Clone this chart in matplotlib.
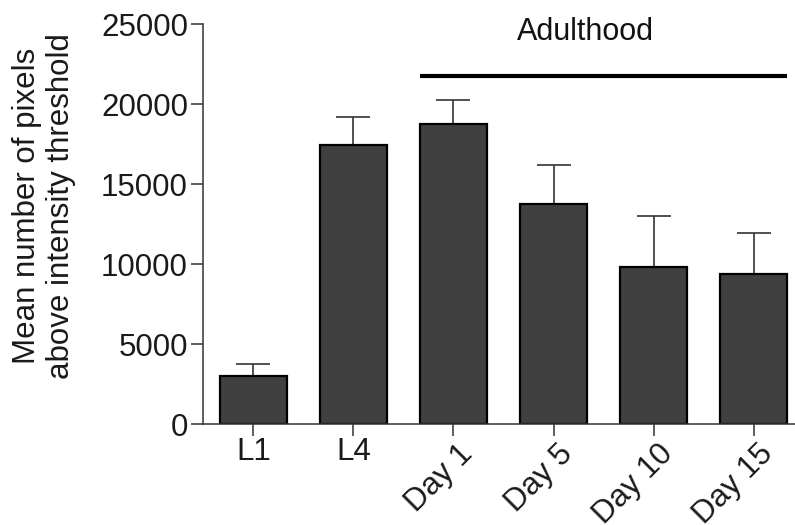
import matplotlib
matplotlib.use("Agg")
import matplotlib.pyplot as plt
import matplotlib.transforms as mtransforms
import numpy as np

categories = ["L1", "L4", "Day 1", "Day 5", "Day 10", "Day 15"]
means = [3000, 17450, 18730, 13780, 9840, 9350]
err_upper = [3760, 19170, 20240, 16210, 12990, 11950]
yticks = [0, 5000, 10000, 15000, 20000, 25000]
group_label = "Adulthood"
group_members = ["Day 1", "Day 5", "Day 10", "Day 15"]
group_line_y = 21750
ylabel = "Mean number of pixels\nabove intensity threshold"

plt.rcParams['font.family'] = ['Liberation Sans', 'DejaVu Sans']

W, H = 795, 525
fig = plt.figure(figsize=(W / 100, H / 100), dpi=100)
ax = fig.add_axes([203.3 / W, 101 / H, 600.4 / W, 400 / H])

x = np.arange(len(categories))
errs = np.array(err_upper) - np.array(means)
bw = 0.67
ax.bar(x, means, width=bw, color="#404040", edgecolor="black", linewidth=1.6, zorder=2)
ax.errorbar(x, means, yerr=[np.zeros_like(errs), errs], fmt="none",
            ecolor="#333333", elinewidth=1.2, capsize=12.2, capthick=1.2, zorder=1)

ax.set_xlim(-0.5, len(categories) - 0.5)
ax.set_ylim(0, 25000)
ax.set_yticks(yticks)
ax.set_yticklabels([str(v) for v in yticks])
ax.set_xticks(x)
ax.set_xticklabels(categories)

for s in ["top", "right"]:
    ax.spines[s].set_visible(False)
for s in ["left", "bottom"]:
    ax.spines[s].set_color("#333333")
    ax.spines[s].set_linewidth(1.1)

ax.tick_params(axis="both", direction="out", length=8.6, width=1.1, color="#333333",
               labelsize=22.5, labelcolor="#1a1a1a")
ax.tick_params(axis="x", pad=0.5)
ax.tick_params(axis="y", pad=2.5)

offset = mtransforms.ScaledTranslation(4 / 100, -2 / 100, fig.dpi_scale_trans)
for lab in ax.get_xticklabels():
    if lab.get_text().startswith("Day"):
        lab.set_rotation(45)
        lab.set_ha("right")
        lab.set_va("top")
        lab.set_rotation_mode("anchor")
        lab.set_transform(lab.get_transform() + offset)

# group bracket
idx = [categories.index(c) for c in group_members]
x0 = min(idx) - bw / 2
x1 = max(idx) + bw / 2
ax.plot([x0, x1], [group_line_y, group_line_y], color="black", lw=3.0,
        solid_capstyle="butt", clip_on=False)
ax.text(3.32, 24500, group_label, ha="center", va="center", fontsize=22, color="#111111")

fig.text(44 / W, 1 - 206 / H, ylabel, rotation=90, ha="center", va="center",
         fontsize=22.5, color="#1a1a1a", multialignment="center", linespacing=1.2)

fig.savefig("out.png", dpi=100)
